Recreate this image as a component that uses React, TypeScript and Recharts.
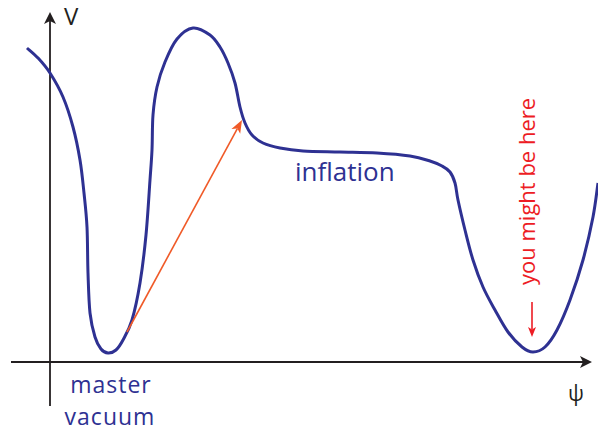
import React from 'react';
import { LineChart, Line, XAxis, YAxis, ReferenceLine, ReferenceDot } from 'recharts';

// field value (psi) and potential V
const psi = [
  -23, -12, 0, 13, 23, 30, 34, 37, 38, 40, 45, 51, 58, 66, 73, 82, 90, 96,
  100, 102, 103, 107, 115, 127, 143, 160, 170, 178, 185, 190, 195, 202, 213, 230,
  253, 290, 327, 360, 380, 392, 400, 405, 408, 415, 423, 433, 445, 458, 472, 483,
  495, 507, 520, 533, 543, 548,
];
const potential = [
  314, 304, 289, 265, 235, 202, 169, 135, 89, 49, 25, 13, 9, 12, 22, 42, 79, 127,
  182, 212, 247, 275, 300, 323, 334, 327, 315, 299, 279, 255, 239, 227, 219, 214,
  211, 210, 209, 206, 201, 196, 190, 179, 162, 132, 102, 75, 52, 30, 15, 10,
  15, 32, 62, 102, 145, 179,
];

const axisLabels = ['V', 'ψ'];
const regionLabels = ['inflation', 'master', 'vacuum'];
const hereLabel = 'you might be here';

const curveData = psi.map((x, i) => ({ psi: x, v: potential[i] }));

const BLUE = '#2e3192';
const DARK = '#231f20';
const RED = '#ed1c24';
const ORANGE = '#f05a28';
const FONT = '"Open Sans", sans-serif';

// plain Catmull-Rom spline, smoother than monotone for a hand drawn curve
const catmullRom = (context: any) => {
  let pts: number[][] = [];
  return {
    areaStart() {},
    areaEnd() {},
    lineStart() {
      pts = [];
    },
    point(x: number, y: number) {
      pts.push([+x, +y]);
    },
    lineEnd() {
      if (!pts.length) return;
      context.moveTo(pts[0][0], pts[0][1]);
      for (let i = 0; i < pts.length - 1; i++) {
        const p0 = pts[i - 1] || pts[i];
        const p1 = pts[i];
        const p2 = pts[i + 1];
        const p3 = pts[i + 2] || p2;
        context.bezierCurveTo(
          p1[0] + (p2[0] - p0[0]) / 6,
          p1[1] + (p2[1] - p0[1]) / 6,
          p2[0] - (p3[0] - p1[0]) / 6,
          p2[1] - (p3[1] - p1[1]) / 6,
          p2[0],
          p2[1],
        );
      }
    },
  };
};

const arrow = (color: string, width: number, headLen: number, half: number) => (props: any) => {
  const { x1, y1, x2, y2 } = props;
  const dx = x2 - x1;
  const dy = y2 - y1;
  const len = Math.hypot(dx, dy) || 1;
  const ux = dx / len;
  const uy = dy / len;
  const nx = -uy;
  const ny = ux;
  const bx = x2 - ux * headLen;
  const by = y2 - uy * headLen;
  const mx = x2 - ux * headLen * 0.75;
  const my = y2 - uy * headLen * 0.75;
  const pts = `${x2},${y2} ${bx + nx * half},${by + ny * half} ${mx},${my} ${bx - nx * half},${by - ny * half}`;
  return (
    <g>
      <line x1={x1} y1={y1} x2={mx} y2={my} stroke={color} strokeWidth={width} />
      <polygon points={pts} fill={color} />
    </g>
  );
};

const textShape = (text: string, color: string, size: number, anchor: string, rotate = 0, spacing = 0) => (props: any) => {
  const { cx, cy } = props;
  return (
    <text
      x={cx}
      y={cy}
      fill={color}
      fontSize={size}
      fontFamily={FONT}
      textAnchor={anchor}
      letterSpacing={spacing || undefined}
      transform={rotate ? `rotate(${rotate}, ${cx}, ${cy})` : undefined}
    >
      {text}
    </text>
  );
};

export default function App() {
  return (
    <div style={{ position: 'absolute', left: 0, top: 0, width: 598, height: 433, background: '#fff' }}>
      <LineChart width={598} height={433} data={curveData} margin={{ top: 0, right: 0, bottom: 0, left: 0 }}>
        <XAxis type="number" dataKey="psi" domain={[-50, 548]} allowDataOverflow hide />
        <YAxis type="number" domain={[-71, 362]} allowDataOverflow hide />

        {/* axes */}
        <ReferenceLine
          segment={[{ x: -39, y: 0 }, { x: 542, y: 0 }]}
          ifOverflow="visible"
          shape={arrow(DARK, 1.8, 12, 6)}
        />
        <ReferenceLine
          segment={[{ x: 0, y: -44 }, { x: 0, y: 350 }]}
          ifOverflow="visible"
          shape={arrow(DARK, 1.8, 12, 6)}
        />

        <Line
          type={catmullRom as any}
          dataKey="v"
          stroke={BLUE}
          strokeWidth={3}
          dot={false}
          activeDot={false}
          isAnimationActive={false}
        />

        {/* tunnelling arrow and "you are here" arrow */}
        <ReferenceLine
          segment={[{ x: 77, y: 30 }, { x: 192, y: 242 }]}
          ifOverflow="visible"
          shape={arrow(ORANGE, 1.6, 13, 5)}
        />
        <ReferenceLine
          segment={[{ x: 482, y: 60 }, { x: 482, y: 25 }]}
          ifOverflow="visible"
          shape={arrow(RED, 1.6, 10, 4)}
        />

        <ReferenceDot x={14} y={337} r={0} ifOverflow="visible" shape={textShape(axisLabels[0], DARK, 24, 'start')} />
        <ReferenceDot x={526} y={-39} r={0} ifOverflow="visible" shape={textShape(axisLabels[1], DARK, 21, 'middle')} />
        <ReferenceDot x={245} y={181} r={0} ifOverflow="visible" shape={textShape(regionLabels[0], BLUE, 26, 'start')} />
        <ReferenceDot x={61} y={-31} r={0} ifOverflow="visible" shape={textShape(regionLabels[1], BLUE, 23, 'middle', 0, 1)} />
        <ReferenceDot x={60} y={-63} r={0} ifOverflow="visible" shape={textShape(regionLabels[2], BLUE, 23, 'middle', 0, 1)} />
        <ReferenceDot x={485} y={77} r={0} ifOverflow="visible" shape={textShape(hereLabel, RED, 22, 'start', -90)} />
      </LineChart>
    </div>
  );
}
